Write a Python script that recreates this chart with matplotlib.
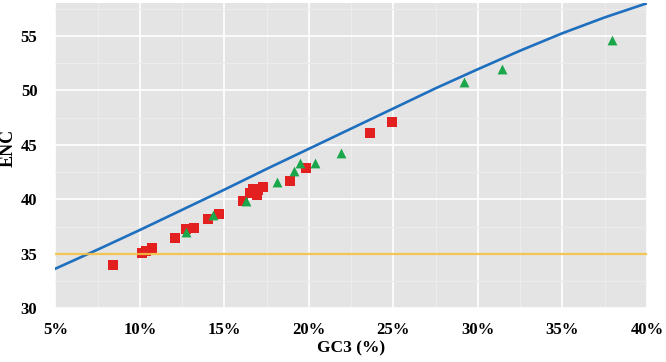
import matplotlib
matplotlib.use('Agg')
import matplotlib.pyplot as plt
from matplotlib.ticker import MultipleLocator, FuncFormatter

# expected ENC curve (GC3 %, ENC)
curve_gc3 = [5, 7.5, 10, 12.5, 15, 17.5, 20, 22.5, 25, 27.5, 30, 32.5, 35, 37.5, 40]
curve_enc = [33.65, 35.4, 37.2, 39.05, 40.9, 42.8, 44.65, 46.5, 48.35, 50.2, 51.95, 53.65, 55.25, 56.7, 58.0]

# red squares
sq_gc3 = [8.4, 10.1, 10.35, 10.7, 12.1, 12.7, 13.2, 14.05, 14.65, 16.1, 16.5, 16.7, 16.9, 17.0, 17.3, 18.9, 19.85, 23.6, 24.9]
sq_enc = [34.0, 35.1, 35.3, 35.5, 36.5, 37.3, 37.4, 38.2, 38.65, 39.9, 40.6, 41.0, 40.4, 40.9, 41.1, 41.7, 42.85, 46.1, 47.1]

# green triangles
tri_gc3 = [12.7, 14.35, 16.25, 18.1, 19.1, 19.5, 20.35, 21.9, 29.15, 31.45, 37.95]
tri_enc = [37.0, 38.6, 39.85, 41.6, 42.65, 43.3, 43.35, 44.3, 50.75, 51.95, 54.65]

hline_enc = 35

plt.rcParams['font.family'] = ['Liberation Serif', 'DejaVu Serif']
plt.rcParams['font.weight'] = 'bold'

fig = plt.figure(figsize=(6.66, 3.62), dpi=100)
ax = fig.add_axes([0.0833, 0.148, 0.888, 0.843])
ax.set_facecolor('#e4e4e4')

ax.plot(curve_gc3, curve_enc, color='#1f6fbf', lw=1.9, zorder=3)
ax.scatter(sq_gc3, sq_enc, marker='s', s=46, color='#e32020', linewidths=0, zorder=4)
ax.scatter(tri_gc3, tri_enc, marker='^', s=50, color='#1aa64a', linewidths=0, zorder=5)
ax.axhline(hline_enc, color='#f4c040', lw=1.6, alpha=0.9, zorder=6)

ax.set_xlim(5, 40)
ax.set_ylim(30, 58)
ax.xaxis.set_major_locator(MultipleLocator(5))
ax.xaxis.set_minor_locator(MultipleLocator(2.5))
ax.yaxis.set_major_locator(MultipleLocator(5))
ax.yaxis.set_minor_locator(MultipleLocator(2.5))
ax.xaxis.set_major_formatter(FuncFormatter(lambda v, p: f'{v:.0f}%'))

ax.grid(which='major', color='white', lw=1.2, zorder=0)
ax.grid(which='minor', color='#ececec', lw=0.8, zorder=0)
ax.set_axisbelow(True)
for s in ax.spines.values():
    s.set_visible(False)
ax.tick_params(which='both', length=0, labelsize=12)
ax.tick_params(axis='x', pad=10)
ax.tick_params(axis='y', pad=13)

ax.set_xlabel('GC3 (%)', fontsize=12.5, fontweight='bold', va='center')
ax.set_ylabel('ENC', fontsize=13, fontweight='bold', va='center')
ax.xaxis.set_label_coords(0.5, -0.13)
ax.yaxis.set_label_coords(-0.08, 0.525)

fig.savefig('out.png', dpi=100)
